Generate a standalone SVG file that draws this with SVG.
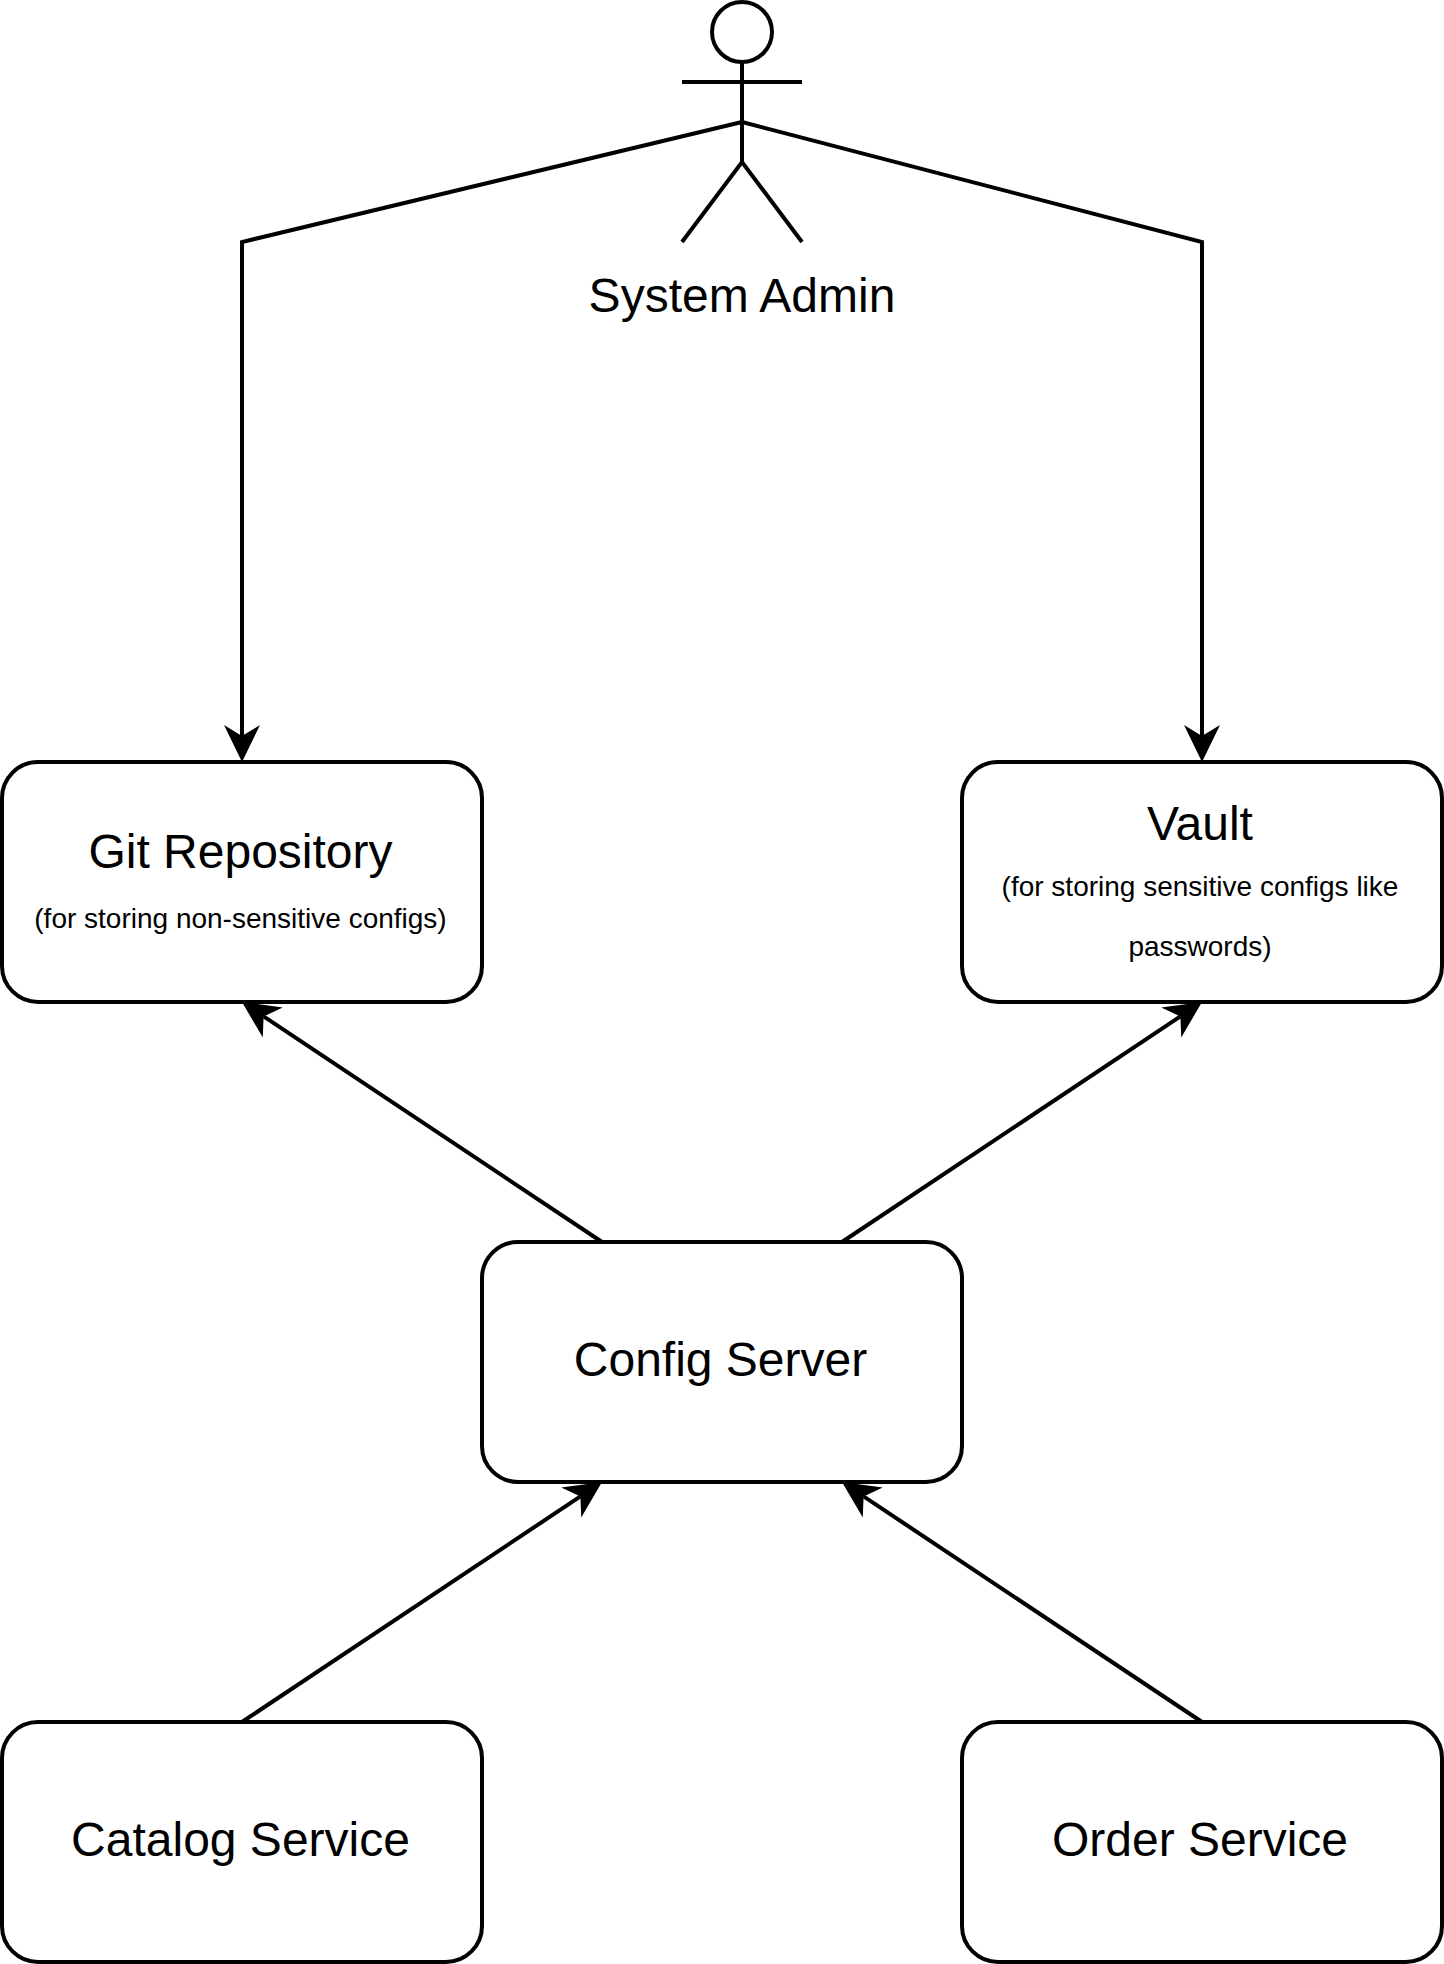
<svg xmlns="http://www.w3.org/2000/svg" width="1444" height="1964" viewBox="0 0 1444 1964">
<style>
.box{fill:#fff;stroke:#000;stroke-width:4}
.ln{fill:none;stroke:#000;stroke-width:4;stroke-linecap:butt;stroke-linejoin:miter;stroke-miterlimit:10}
.arr{marker-end:url(#head)}
text{font-family:"Liberation Sans",Arial,sans-serif;fill:#000;text-anchor:middle}
.t{font-size:48px}
.s{font-size:28px}
</style>
<defs>
<marker id="head" markerUnits="userSpaceOnUse" markerWidth="50" markerHeight="50" viewBox="-40 -25 50 50" refX="-26" refY="0" orient="auto" overflow="visible">
<path d="M0 0L-37 -18L-26 0L-37 18Z" fill="#000"/>
</marker>
</defs>
<rect width="1444" height="1964" fill="#fff"/>
<g id="connectors">
<path class="ln arr" d="M742 122L242 242L242 736"/>
<path class="ln arr" d="M742 122L1202 242L1202 736"/>
<path class="ln arr" d="M602 1242L263.6 1016.4"/>
<path class="ln arr" d="M842 1242L1180.4 1016.4"/>
<path class="ln arr" d="M242 1722L580.4 1496.4"/>
<path class="ln arr" d="M1202 1722L863.6 1496.4"/>
</g>
<g id="system-admin">
<circle class="ln" cx="742" cy="32" r="30"/>
<path class="ln" d="M742 62V162M682 82H802M682 242L742 162L802 242"/>
<text class="t" x="742" y="312">System Admin</text>
</g>
<g id="git-repository">
<rect class="box" x="2" y="762" width="480" height="240" rx="36" ry="36"/>
<text class="t" x="240.5" y="868">Git Repository</text>
<text class="s" x="240.5" y="928">(for storing non-sensitive configs)</text>
</g>
<g id="vault">
<rect class="box" x="962" y="762" width="480" height="240" rx="36" ry="36"/>
<text class="t" x="1200" y="840">Vault</text>
<text class="s" x="1200" y="896">(for storing sensitive configs like</text>
<text class="s" x="1200" y="956">passwords)</text>
</g>
<g id="config-server">
<rect class="box" x="482" y="1242" width="480" height="240" rx="36" ry="36"/>
<text class="t" x="720.5" y="1376">Config Server</text>
</g>
<g id="catalog-service">
<rect class="box" x="2" y="1722" width="480" height="240" rx="36" ry="36"/>
<text class="t" x="240.5" y="1856">Catalog Service</text>
</g>
<g id="order-service">
<rect class="box" x="962" y="1722" width="480" height="240" rx="36" ry="36"/>
<text class="t" x="1200" y="1856">Order Service</text>
</g>
</svg>
